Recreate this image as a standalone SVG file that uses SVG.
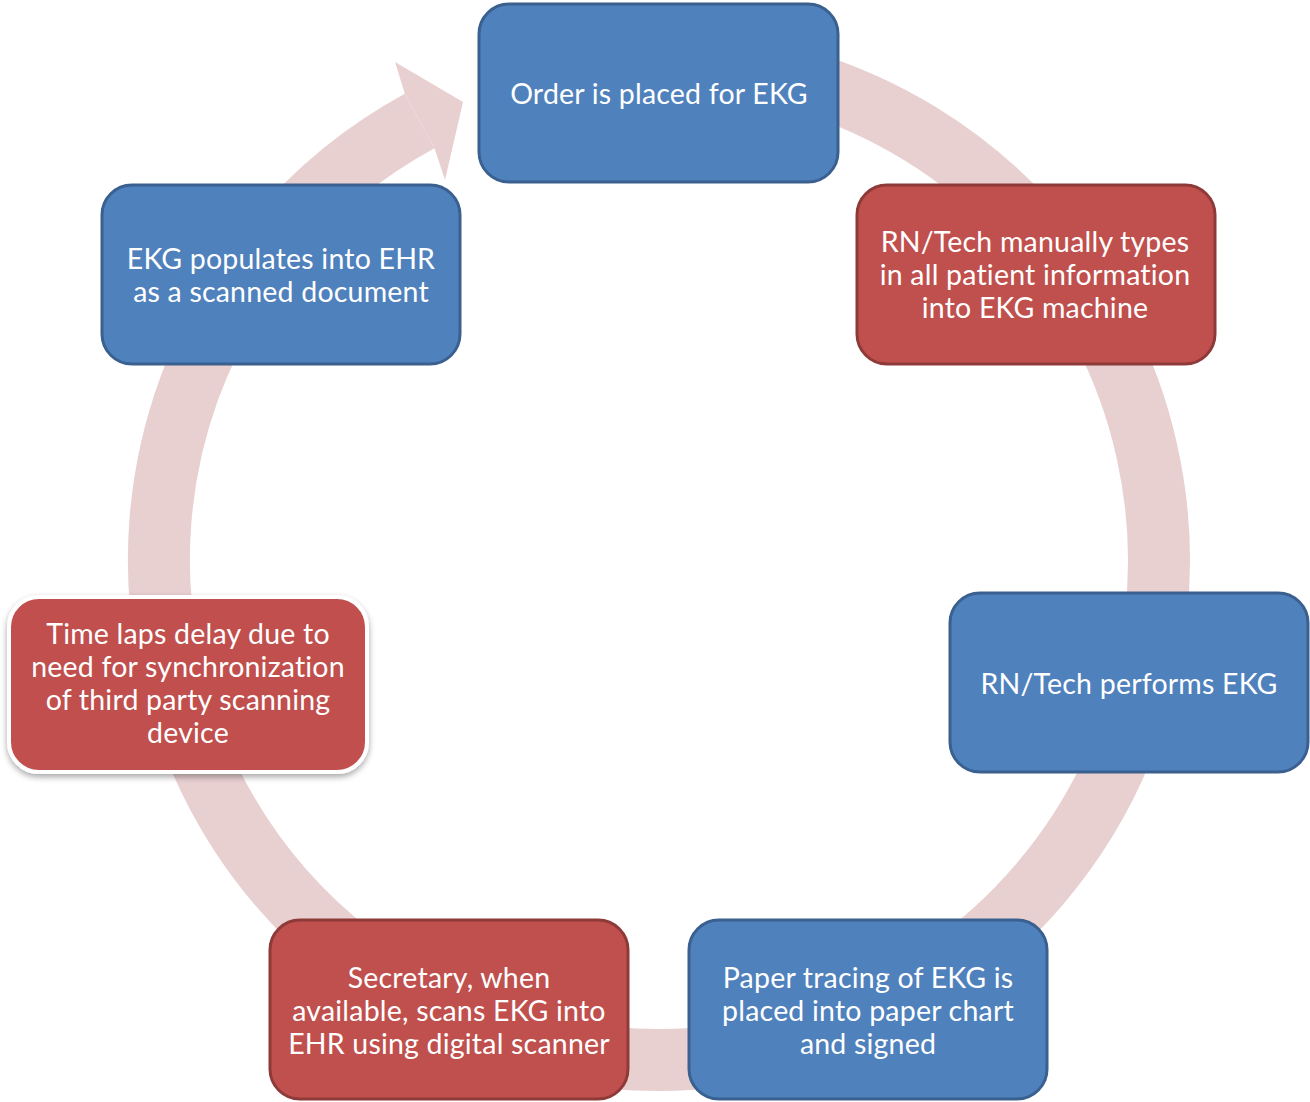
<svg xmlns="http://www.w3.org/2000/svg" width="1310" height="1102" viewBox="0 0 1310 1102">
<defs>
<filter id="sh" x="-10%" y="-10%" width="120%" height="130%">
<feGaussianBlur in="SourceAlpha" stdDeviation="3"/>
<feOffset dx="0" dy="3" result="b"/>
<feComponentTransfer><feFuncA type="linear" slope="0.35"/></feComponentTransfer>
<feMerge><feMergeNode/><feMergeNode in="SourceGraphic"/></feMerge>
</filter>
</defs>
<style>
.blue{fill:#4F81BD;stroke:#3A6090;stroke-width:3}
.red{fill:#C0504D;stroke:#8E3A38;stroke-width:3}
.redw{fill:#C0504D;stroke:#FFFFFF;stroke-width:4}
.t{font-family:Lato,"Open Sans","Liberation Sans",sans-serif;font-size:28.5px;letter-spacing:0.2px;fill:#FFFFFF;text-anchor:middle}
.ring{fill:none;stroke:#E8D0D1;stroke-width:62}
.head{fill:#E8D0D1}
</style>
<g id="connectors">
<path class="ring" d="M572.2,67.6 A500,500 0 1 1 419.6,121.0"/>
<polygon class="head" points="404.8,93.8 395,62 463,102 445,180 434.5,148.2"/>
</g>
<g id="n1">
<rect class="blue" x="479" y="4" width="359" height="178" rx="30"/>
<text class="t" x="659" y="104">Order is placed for EKG</text>
</g>
<g id="n2">
<rect class="red" x="857" y="185" width="358" height="179" rx="30"/>
<text class="t" x="1035" y="252">RN/Tech manually types</text>
<text class="t" x="1035" y="285">in all patient information</text>
<text class="t" x="1035" y="318">into EKG machine</text>
</g>
<g id="n3">
<rect class="blue" x="950" y="593" width="358" height="179" rx="30"/>
<text class="t" x="1129" y="694">RN/Tech performs EKG</text>
</g>
<g id="n4">
<rect class="blue" x="689" y="920" width="358" height="179" rx="30"/>
<text class="t" x="868" y="988">Paper tracing of EKG is</text>
<text class="t" x="868" y="1021">placed into paper chart</text>
<text class="t" x="868" y="1054">and signed</text>
</g>
<g id="n5">
<rect class="red" x="270" y="920" width="358" height="179" rx="30"/>
<text class="t" x="449" y="988">Secretary, when</text>
<text class="t" x="449" y="1021">available, scans EKG into</text>
<text class="t" x="449" y="1054">EHR using digital scanner</text>
</g>
<g id="n6">
<rect class="redw" x="9" y="597" width="358" height="175" rx="30" filter="url(#sh)"/>
<text class="t" x="188" y="644">Time laps delay due to</text>
<text class="t" x="188" y="677">need for synchronization</text>
<text class="t" x="188" y="710">of third party scanning</text>
<text class="t" x="188" y="743">device</text>
</g>
<g id="n7">
<rect class="blue" x="102" y="185" width="358" height="179" rx="30"/>
<text class="t" x="281" y="269">EKG populates into EHR</text>
<text class="t" x="281" y="302">as a scanned document</text>
</g>
</svg>
